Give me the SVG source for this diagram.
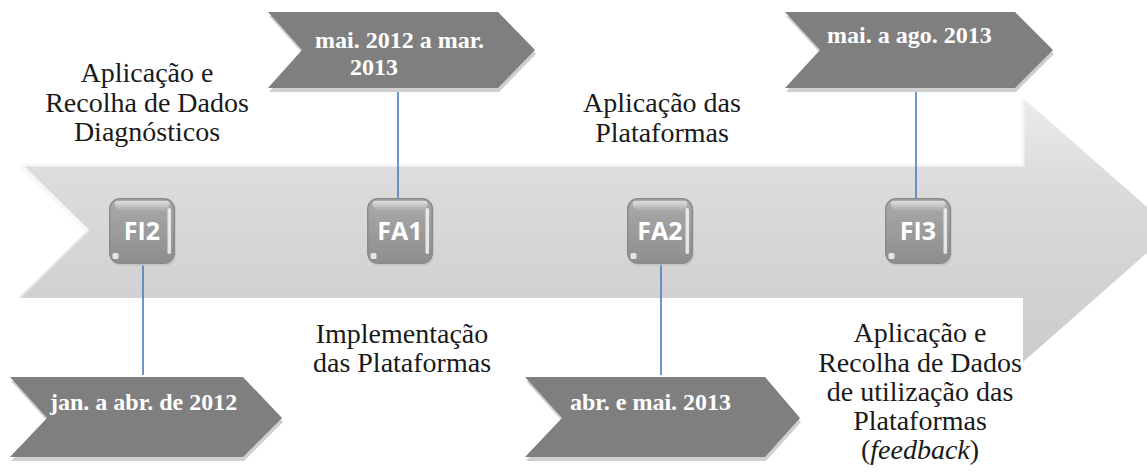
<svg xmlns="http://www.w3.org/2000/svg" width="1147" height="475" viewBox="0 0 1147 475">
<style>
.lbl{font-family:'Liberation Serif','DejaVu Serif',serif;font-size:28px;fill:#1a1a1a;text-anchor:middle}
.ctx{font-family:'Liberation Serif','DejaVu Serif',serif;font-size:24px;font-weight:bold;fill:#ffffff}
.ktx{font-family:'Open Sans','Liberation Sans',sans-serif;font-size:25px;font-weight:bold;fill:#ffffff;text-anchor:middle}
.chev{fill:#7f7f7f}
.chsh{fill:#cfcfcf}
.conn{stroke:#4a7ebb;stroke-width:1.6;fill:none}
</style>
<defs>
<linearGradient id="arrowG" x1="0" y1="98" x2="0" y2="362" gradientUnits="userSpaceOnUse">
<stop offset="0" stop-color="#ececec"/>
<stop offset="0.3" stop-color="#dcdcdc"/>
<stop offset="0.7" stop-color="#d2d2d2"/>
<stop offset="1" stop-color="#cdcdcd"/>
</linearGradient>
<linearGradient id="keyG" x1="0" y1="0" x2="0" y2="1">
<stop offset="0" stop-color="#aaaaaa"/>
<stop offset="1" stop-color="#8e8e8e"/>
</linearGradient>
<linearGradient id="keyTop" x1="0" y1="0" x2="0" y2="1">
<stop offset="0" stop-color="#dedede"/>
<stop offset="1" stop-color="#a8a8a8"/>
</linearGradient>
<g id="key">
<rect x="1" y="2" width="66" height="66" rx="11" fill="#bdbdbd" opacity="0.6"/>
<rect x="0" y="0" width="66" height="66" rx="11" fill="#8a8a8a"/>
<rect x="1.5" y="1.5" width="63" height="63" rx="9.5" fill="url(#keyG)"/>
<path d="M9 3 H57 Q62 3 60 8 L57 13 H10 L6 8 Q4 3 9 3 Z" fill="url(#keyTop)"/>
<rect x="58.5" y="10" width="3.5" height="46" rx="1.7" fill="#f4f4f4" opacity="0.85"/>
<rect x="3.5" y="55" width="6" height="6" rx="1.5" fill="#eeeeee" opacity="0.9"/>
</g>
</defs>

<g id="timeline-arrow">
<path d="M20 165 H1023 V98 L1173 230 L1023 362 V298 H20 L88 231.5 Z" fill="url(#arrowG)"/>
<path d="M20 165 H1023 V98" fill="none" stroke="#f6f6f6" stroke-width="3"/>
<path d="M20 165 L88 231.5" fill="none" stroke="#f8f8f8" stroke-width="4"/>
<path d="M88 231.5 L20 298" fill="none" stroke="#e2e2e2" stroke-width="2"/>
</g>

<g id="connectors">
<line class="conn" x1="143" y1="265" x2="143" y2="375"/>
<line class="conn" x1="398" y1="90" x2="398" y2="198"/>
<line class="conn" x1="661" y1="264" x2="661" y2="375"/>
<line class="conn" x1="916" y1="90" x2="916" y2="198"/>
</g>

<g id="FI2"><use href="#key" x="109" y="198"/><text class="ktx" x="142" y="240">FI2</text></g>
<g id="FA1"><use href="#key" x="367" y="198"/><text class="ktx" x="400" y="240">FA1</text></g>
<g id="FA2"><use href="#key" x="627" y="198"/><text class="ktx" x="660" y="240">FA2</text></g>
<g id="FI3"><use href="#key" x="885" y="198"/><text class="ktx" x="918" y="240">FI3</text></g>

<g id="date-jan-abr-2012">
<path class="chsh" d="M11 381 H244 L283 422 L244 461 H11 L48 422 Z"/>
<path class="chev" d="M10 377 H243 L282 418 L243 457 H10 L47 418 Z"/>
<text class="ctx" x="50" y="410">jan. a abr. de 2012</text>
</g>
<g id="date-mai2012-mar2013">
<path class="chsh" d="M269 16 H499 L536 54 L499 92 H269 L303 54 Z"/>
<path class="chev" d="M268 12 H498 L535 50 L498 88 H268 L302 50 Z"/>
<text class="ctx" x="315" y="48">mai. 2012 a mar.</text>
<text class="ctx" x="350" y="75">2013</text>
</g>
<g id="date-abr-mai-2013">
<path class="chsh" d="M526 381 H766 L801 422 L766 461 H526 L563 422 Z"/>
<path class="chev" d="M525 377 H765 L800 418 L765 457 H525 L562 418 Z"/>
<text class="ctx" x="570" y="410">abr. e mai. 2013</text>
</g>
<g id="date-mai-ago-2013">
<path class="chsh" d="M786 16 H1016 L1054 54 L1016 92 H786 L821 54 Z"/>
<path class="chev" d="M785 12 H1015 L1053 50 L1015 88 H785 L820 50 Z"/>
<text class="ctx" x="827" y="43">mai. a ago. 2013</text>
</g>

<g id="label-FI2">
<text class="lbl"><tspan x="147" y="82">Aplicação e</tspan><tspan x="147" y="112">Recolha de Dados</tspan><tspan x="147" y="141">Diagnósticos</tspan></text>
</g>
<g id="label-FA1">
<text class="lbl"><tspan x="402" y="343">Implementação</tspan><tspan x="402" y="372">das Plataformas</tspan></text>
</g>
<g id="label-FA2">
<text class="lbl"><tspan x="662" y="112">Aplicação das</tspan><tspan x="662" y="142">Plataformas</tspan></text>
</g>
<g id="label-FI3">
<text class="lbl"><tspan x="920" y="342">Aplicação e</tspan><tspan x="920" y="372">Recolha de Dados</tspan><tspan x="920" y="401">de utilização das</tspan><tspan x="920" y="430">Plataformas</tspan><tspan x="920" y="459">(<tspan font-style="italic">feedback</tspan>)</tspan></text>
</g>
</svg>
